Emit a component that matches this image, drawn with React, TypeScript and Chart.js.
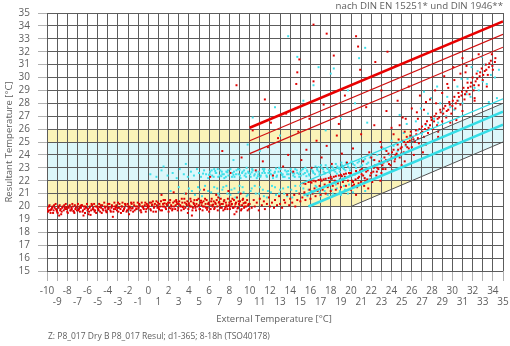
import React, { useEffect, useRef } from "react";
import { Chart, registerables } from "chart.js";

Chart.register(...registerables);

// ---- axis ranges / labels ----
const xMin = -10;
const xMax = 35;
const yMin = 15;
const yMax = 35;
const titleText = "nach DIN EN 15251* und DIN 1946**";
const xTitle = "External Temperature [°C]";
const yTitle = "Resultant Temperature [°C]";
const captionText = "Z: P8_017 Dry B P8_017 Resul; d1-365; 8-18h (TSO40178)";

// ---- background comfort zones (DIN 1946) ----
const dinCyanZone = [[-10, 22], [-10, 25], [26, 25], [35, 28], [35, 25], [26, 22]];
const dinYellowUpper = [[-10, 25], [-10, 26], [26, 26], [26, 25]];
const dinYellowLower = [[-10, 20], [20, 20], [26, 22], [-10, 22]];

// ---- limit lines (EN 15251 / DIN 1946) ----
const redTopLine = [[10, 26.1], [35, 34.35]];
const redMidLine = [[10, 25.1], [35, 33.35]];
const redLowLine = [[10, 24.1], [35, 32.35]];
const cyanTopLine = [[15, 21.75], [35, 28.35]];
const cyanMidLine = [[15.5, 20.9], [35, 27.35]];
const cyanLowLine = [[15.8, 20.0], [35, 26.35]];
const grayUpperLine = [[26, 25], [35, 28]];
const grayLowerLine = [[20, 20], [35, 25]];

// ---- red scatter (resultant temperature), flat x,y pairs ----
const redCold = [
  -10, 19.8, -9.9, 19.6, -9.8, 20.0, -9.7, 19.7, -9.5, 19.9, -9.4, 19.5, -9.3, 20.1, -9.1, 19.8, -9.0, 19.6, -8.9, 20.0,
  -8.7, 19.7, -8.6, 19.4, -8.5, 19.9, -8.3, 20.1, -8.2, 19.8, -8.0, 19.6, -7.9, 20.0, -7.7, 19.7, -7.6, 19.9, -7.5, 20.2,
  -7.3, 19.5, -7.2, 19.8, -7.0, 20.0, -6.9, 19.7, -6.8, 19.9, -6.6, 20.1, -6.5, 19.6, -6.3, 19.8, -6.2, 20.0, -6.0, 19.7,
  -5.9, 19.4, -5.8, 19.9, -5.6, 20.2, -5.5, 19.8, -5.3, 19.6, -5.2, 20.0, -5.0, 19.9, -4.9, 19.7, -4.7, 20.1, -4.6, 19.5,
  -4.5, 19.8, -4.3, 20.0, -4.2, 19.7, -4.0, 20.2, -3.9, 19.9, -3.7, 19.6, -3.6, 20.1, -3.4, 19.8, -3.3, 20.0, -3.1, 19.7,
  -3.0, 20.3, -2.9, 19.9, -2.7, 19.5, -2.6, 20.0, -2.4, 19.8, -2.3, 20.2, -2.1, 19.7, -2.0, 20.0, -1.8, 19.9, -1.7, 20.3,
  -1.5, 19.6, -1.4, 20.1, -1.2, 19.8, -1.1, 20.0, -0.9, 20.2, -0.8, 19.7, -0.6, 20.0, -0.5, 19.9, -0.3, 20.3, -0.2, 19.8,
  -8.8, 19.3, -6.4, 19.3, -3.5, 19.2, -1.9, 19.4, -5.7, 19.35,
  -9.6, 19.75, -8.1, 19.95, -7.4, 19.65, -6.7, 20.05, -5.4, 19.75, -4.8, 19.95, -4.1, 19.55, -3.2, 19.95, -2.5, 19.65,
  -1.6, 19.85, -0.7, 19.55, -0.1, 20.05,
];
const redCold2 = [
  -9.95, 19.9, -9.85, 19.7, -9.75, 20.1, -9.65, 19.5, -9.55, 19.8, -9.45, 20.0, -9.35, 19.7, -9.25, 19.9, -9.15, 20.2,
  -9.05, 19.7, -8.95, 19.5, -8.85, 19.9, -8.75, 20.1, -8.65, 19.8, -8.55, 19.6, -8.45, 20.0, -8.35, 19.7, -8.25, 19.9,
  -8.15, 20.2, -8.05, 19.8, -7.95, 19.5, -7.85, 19.9, -7.75, 20.1, -7.65, 19.7, -7.55, 19.8, -7.45, 20.0, -7.35, 19.6,
  -7.25, 20.1, -7.15, 19.9, -7.05, 19.7, -6.95, 20.2, -6.85, 19.8, -6.75, 19.6, -6.65, 19.9, -6.55, 20.1, -6.45, 19.7,
  -6.35, 20.0, -6.25, 19.5, -6.15, 19.9, -6.05, 20.2, -5.95, 19.8, -5.85, 19.6, -5.75, 20.0, -5.65, 19.7, -5.55, 20.1,
  -5.45, 19.9, -5.35, 20.2, -5.25, 19.7, -5.15, 19.5, -5.05, 20.0, -4.95, 19.8, -4.85, 20.2, -4.75, 19.6, -4.65, 19.9,
  -4.55, 20.1, -4.45, 19.7, -4.35, 20.3, -4.25, 19.9, -4.15, 19.6, -4.05, 20.0, -3.95, 19.8, -3.85, 20.2, -3.75, 19.7,
  -3.65, 19.9, -3.55, 20.0, -3.45, 19.6, -3.35, 20.3, -3.25, 19.8, -3.15, 20.1, -3.05, 19.9, -2.95, 19.6, -2.85, 20.2,
  -2.75, 19.8, -2.65, 20.0, -2.55, 20.3, -2.45, 19.7, -2.35, 19.9, -2.25, 20.1, -2.15, 19.6, -2.05, 20.2, -1.95, 19.8,
  -1.85, 20.0, -1.75, 19.7, -1.65, 20.2, -1.55, 19.9, -1.45, 20.3, -1.35, 19.7, -1.25, 20.0, -1.15, 19.8, -1.05, 20.3,
  -0.95, 19.9, -0.85, 20.1, -0.75, 19.7, -0.65, 20.3, -0.55, 20.0, -0.45, 19.8, -0.35, 20.1, -0.25, 19.6, -0.15, 20.2,
  -0.05, 19.9,
];
const redMild = [
  0.0, 20.1, 0.2, 19.8, 0.3, 20.3, 0.5, 19.6, 0.6, 20.0, 0.8, 20.4, 0.9, 19.9, 1.1, 20.2, 1.2, 19.7, 1.4, 20.0,
  1.5, 20.5, 1.7, 19.9, 1.8, 20.2, 2.0, 19.6, 2.1, 20.3, 2.3, 20.0, 2.4, 19.8, 2.6, 20.4, 2.7, 20.1, 2.9, 19.7,
  3.0, 20.2, 3.2, 20.0, 3.3, 20.6, 3.5, 19.8, 3.6, 20.3, 3.8, 20.1, 3.9, 19.5, 4.1, 20.0, 4.2, 20.4, 4.4, 19.9,
  4.5, 20.2, 4.7, 19.7, 4.8, 20.5, 5.0, 20.1, 5.1, 19.8, 5.3, 20.3, 5.4, 20.0, 5.6, 20.6, 5.7, 19.9, 5.9, 20.2,
  6.0, 19.6, 6.2, 20.4, 6.3, 20.1, 6.5, 19.8, 6.6, 20.3, 6.8, 20.0, 6.9, 20.7, 7.1, 19.9, 7.2, 20.2, 7.4, 19.7,
  7.5, 20.5, 7.7, 20.1, 7.8, 19.8, 8.0, 20.3, 8.1, 20.0, 8.3, 20.6, 8.4, 19.9, 8.6, 20.2, 8.7, 19.6, 8.9, 20.4,
  9.0, 20.1, 9.2, 19.8, 9.3, 20.5, 9.5, 20.0, 9.6, 20.3, 9.8, 19.7, 9.9, 20.2,
  0.4, 20.15, 1.0, 19.95, 1.6, 20.25, 2.2, 19.85, 2.8, 20.35, 3.4, 19.95, 4.0, 20.25, 4.6, 20.05, 5.2, 20.45, 5.8, 19.75,
  6.4, 20.15, 7.0, 20.35, 7.6, 19.95, 8.2, 20.15, 8.8, 19.85, 9.4, 20.25,
  1.3, 20.9, 3.7, 21.0, 5.5, 21.3, 6.7, 20.9, 7.9, 21.2, 9.1, 21.0, 4.3, 19.3, 8.5, 19.4, 2.5, 21.1,
];
const redMild2 = [
  0.05, 20.0, 0.15, 20.3, 0.25, 19.7, 0.35, 20.1, 0.45, 20.4, 0.55, 19.9, 0.65, 20.2, 0.75, 19.6, 0.85, 20.1, 0.95, 20.3,
  1.05, 19.8, 1.15, 20.0, 1.25, 20.4, 1.35, 19.7, 1.45, 20.2, 1.55, 20.0, 1.65, 20.5, 1.75, 19.8, 1.85, 20.1, 1.95, 20.3,
  2.05, 19.9, 2.15, 20.5, 2.25, 20.1, 2.35, 19.7, 2.45, 20.3, 2.55, 20.0, 2.65, 19.8, 2.75, 20.5, 2.85, 20.2, 2.95, 19.9,
  3.05, 20.4, 3.15, 20.1, 3.25, 19.7, 3.35, 20.3, 3.45, 20.0, 3.55, 20.6, 3.65, 19.9, 3.75, 20.2, 3.85, 20.4, 3.95, 19.8,
  4.05, 20.1, 4.15, 20.6, 4.25, 20.0, 4.35, 19.7, 4.45, 20.3, 4.55, 20.5, 4.65, 19.9, 4.75, 20.2, 4.85, 20.0, 4.95, 20.6,
  5.05, 19.8, 5.15, 20.3, 5.25, 20.1, 5.35, 19.7, 5.45, 20.4, 5.55, 20.0, 5.65, 20.2, 5.75, 20.5, 5.85, 19.9, 5.95, 20.3,
  6.05, 20.1, 6.15, 19.8, 6.25, 20.6, 6.35, 20.0, 6.45, 20.4, 6.55, 19.9, 6.65, 20.2, 6.75, 20.5, 6.85, 19.7, 6.95, 20.3,
  7.05, 20.1, 7.15, 20.6, 7.25, 19.9, 7.35, 20.2, 7.45, 20.4, 7.55, 19.8, 7.65, 20.3, 7.75, 20.0, 7.85, 20.6, 7.95, 20.1,
  8.05, 19.8, 8.15, 20.4, 8.25, 20.2, 8.35, 19.9, 8.45, 20.5, 8.55, 20.0, 8.65, 20.3, 8.75, 20.7, 8.85, 19.9, 8.95, 20.2,
  9.05, 20.4, 9.15, 19.7, 9.25, 20.1, 9.35, 20.6, 9.45, 19.9, 9.55, 20.3, 9.65, 20.0, 9.75, 20.5, 9.85, 20.1, 9.95, 19.8,
];
const redWarm = [
  10.0, 20.2, 10.2, 19.9, 10.4, 20.5, 10.5, 20.0, 10.7, 20.3, 10.9, 19.7, 11.0, 20.6, 11.2, 20.1, 11.4, 20.4, 11.5, 19.8,
  11.7, 20.2, 11.9, 20.7, 12.0, 20.0, 12.2, 20.3, 12.4, 19.9, 12.5, 20.5, 12.7, 20.1, 12.9, 20.8, 13.0, 20.2, 13.2, 19.9,
  13.4, 20.5, 13.5, 20.3, 13.7, 20.9, 13.9, 20.1, 14.0, 20.6, 14.2, 20.3, 14.4, 20.9, 14.5, 20.0, 14.7, 20.5, 14.9, 21.0,
  15.0, 20.4, 15.2, 20.7, 15.4, 21.1, 15.5, 20.5, 15.7, 20.9, 15.9, 21.3, 16.0, 20.6, 16.2, 21.0, 16.4, 21.4, 16.5, 20.8,
  16.7, 21.2, 16.9, 21.6, 17.0, 20.9, 17.2, 21.3, 17.4, 21.7, 17.5, 21.0, 17.7, 21.5, 17.9, 21.9, 18.0, 21.2, 18.2, 21.6,
  18.4, 22.0, 18.5, 21.3, 18.7, 21.8, 18.9, 22.1, 19.0, 21.5, 19.2, 21.9, 19.4, 22.3, 19.5, 21.6, 19.7, 22.0, 19.9, 22.4,
  15.3, 21.8, 15.8, 21.9, 16.3, 22.0, 16.8, 22.05, 17.3, 22.1, 17.8, 22.2, 18.3, 22.3, 18.8, 22.4, 19.3, 22.5, 19.8, 22.6,
  16.1, 21.85, 17.1, 22.0, 18.1, 22.15, 19.1, 22.35,
  15.5, 21.75, 16.0, 21.9, 16.5, 21.95, 17.0, 22.1, 17.5, 22.15, 18.0, 22.3, 18.5, 22.35, 19.0, 22.45, 19.5, 22.55,
  20.0, 22.6, 20.5, 22.75, 21.0, 22.85,
];
const redHot = [
  20.0, 21.3, 20.1, 22.0, 20.3, 21.7, 20.4, 22.5, 20.6, 21.5, 20.7, 22.2, 20.9, 22.8, 21.0, 21.9, 21.2, 22.4, 21.3, 21.6,
  21.5, 22.7, 21.6, 22.1, 21.8, 23.0, 21.9, 22.4, 22.1, 21.9, 22.2, 22.7, 22.4, 23.2, 22.5, 22.4, 22.7, 22.9, 22.8, 23.5,
  23.0, 22.6, 23.1, 23.2, 23.3, 23.8, 23.4, 22.9, 23.6, 23.5, 23.7, 24.1, 23.9, 23.2, 24.0, 23.8, 24.2, 24.4, 24.3, 23.5,
  24.5, 24.1, 24.6, 24.8, 24.8, 23.8, 24.9, 24.5, 25.1, 25.1, 25.2, 24.2, 25.4, 24.8, 25.5, 25.4, 25.7, 24.5, 25.8, 25.1,
  25.9, 25.8, 20.2, 21.9, 20.8, 22.3, 21.4, 22.0, 22.0, 22.6, 22.6, 23.0, 23.2, 23.4, 23.8, 23.6, 24.4, 24.0, 25.0, 24.6,
  25.6, 25.0, 21.1, 22.9, 22.3, 23.6, 23.5, 24.3, 24.7, 25.2, 25.3, 25.8, 20.5, 20.9, 21.7, 21.4, 22.9, 22.0, 24.1, 22.8,
  25.3, 23.5,
  26.0, 24.6, 26.1, 25.4, 26.3, 25.0, 26.4, 25.9, 26.6, 25.3, 26.7, 24.9, 26.9, 25.7, 27.0, 26.2, 27.2, 25.4, 27.3, 26.0,
  27.5, 26.6, 27.6, 25.7, 27.8, 26.3, 27.9, 26.9, 28.1, 26.0, 28.2, 26.6, 28.4, 27.2, 28.5, 26.3, 28.7, 26.9, 28.8, 27.5,
  29.0, 26.6, 29.1, 27.2, 29.3, 27.8, 29.4, 26.9, 29.6, 27.5, 29.7, 28.1, 29.9, 27.2, 30.0, 27.8, 30.2, 28.5, 30.3, 27.6,
  30.5, 28.2, 30.6, 28.8, 30.8, 27.9, 30.9, 28.6, 31.1, 29.2, 31.2, 28.3, 31.4, 28.9, 31.5, 29.6, 31.7, 28.7, 31.8, 29.3,
  32.0, 30.0, 32.1, 29.0, 32.3, 29.7, 32.4, 30.3, 32.6, 29.4, 32.7, 30.1, 32.9, 30.7, 33.0, 29.8, 33.2, 30.5, 33.3, 31.0,
  33.5, 30.2, 33.6, 30.8, 33.8, 31.3, 34.0, 30.6, 34.2, 31.2, 33.9, 31.8,
];
const redHot2 = [
  20.15, 21.6, 20.45, 22.1, 20.75, 21.8, 21.05, 22.5, 21.35, 22.2, 21.65, 22.8, 21.95, 22.1, 22.25, 23.0, 22.55, 22.7,
  22.85, 23.3, 23.15, 22.9, 23.45, 23.6, 23.75, 23.3, 24.05, 24.2, 24.35, 23.7, 24.65, 24.4, 24.95, 24.1, 25.25, 25.0,
  25.55, 24.6, 25.85, 25.5, 26.15, 25.2, 26.45, 25.6, 26.75, 26.0, 27.05, 25.8, 27.35, 26.4, 27.65, 26.1, 27.95, 26.7,
  28.25, 27.0, 28.55, 26.8, 28.85, 27.3, 29.15, 27.6, 29.45, 27.4, 29.75, 27.9, 30.05, 28.2, 30.35, 28.0, 30.65, 28.5,
  30.95, 28.9, 31.25, 28.7, 31.55, 29.2, 31.85, 29.6, 32.15, 29.4, 32.45, 29.9, 32.75, 30.4, 33.05, 30.2, 33.35, 30.6,
  33.65, 31.1, 33.95, 30.9, 34.25, 31.5,
];
const redHotSpread = [
  24.2, 25.6, 24.8, 26.3, 25.4, 26.8, 26.0, 27.6, 26.6, 26.8, 27.2, 27.5, 27.8, 28.3, 28.4, 28.0, 29.0, 28.8, 29.6, 29.2,
  30.2, 29.8, 30.8, 30.3, 31.4, 30.9, 32.0, 31.4, 32.6, 31.8, 25.0, 23.2, 26.2, 24.0, 27.4, 24.8, 28.6, 25.8, 29.8, 26.5,
  31.0, 27.4, 32.2, 28.4, 33.4, 29.3, 23.0, 24.6, 22.0, 23.8, 21.2, 23.5,
];
const redOutliers = [
  10.6, 22.8, 11.3, 23.5, 11.8, 24.6, 12.3, 22.4, 12.8, 25.3, 13.3, 23.1, 13.8, 24.0, 14.3, 22.7, 14.8, 25.8, 15.1, 23.6,
  15.6, 24.4, 16.1, 23.0, 16.6, 25.1, 17.1, 23.8, 17.6, 24.7, 18.1, 23.3, 18.6, 25.5, 19.1, 24.1, 19.6, 23.4, 12.1, 26.5,
  13.6, 27.2, 15.9, 26.8, 17.3, 27.9, 18.8, 26.4, 19.4, 28.6, 14.6, 29.5, 16.3, 29.7, 14.7, 30.4, 14.9, 31.4,
  18.3, 31.7, 20.7, 32.4, 20.5, 33.2, 17.6, 33.4, 16.3, 34.1, 8.7, 29.4, 11.5, 28.3, 10.3, 25.9, 9.2, 23.8, 8.1, 22.6,
  7.3, 24.3, 6.1, 22.3, 20.2, 24.5, 21.0, 25.6, 21.8, 24.2, 22.3, 26.3, 22.9, 25.0, 23.5, 27.4, 24.0, 26.1, 24.6, 28.2,
  25.1, 26.9, 25.7, 29.3, 21.5, 27.7, 23.0, 29.0, 20.9, 30.6, 24.4, 30.9, 23.6, 32.0, 22.4, 31.2, 26.5, 27.3, 27.4, 28.1,
  28.3, 29.0, 29.2, 30.1, 30.1, 30.8, 31.0, 31.5, 27.1, 24.2, 28.6, 25.4, 30.4, 26.7, 32.2, 28.2, 26.8, 28.6, 29.5, 29.5,
  31.3, 30.4,
];

// ---- cyan scatter (air temperature), flat x,y pairs ----
const cyanUpperBand = [
  0.2, 22.5, 0.8, 22.3, 1.3, 22.8, 1.9, 22.4, 2.4, 22.6, 2.8, 22.2, 3.1, 22.9, 3.5, 22.5, 3.9, 22.3, 4.2, 22.7,
  4.5, 22.4, 4.8, 22.9, 5.0, 22.6, 5.2, 22.3, 5.5, 22.8, 5.7, 22.5, 5.9, 22.2, 6.1, 22.7, 6.3, 22.4, 6.5, 22.9,
  6.7, 22.6, 6.9, 22.3, 7.1, 22.8, 7.3, 22.5, 7.5, 22.2, 7.7, 22.7, 7.9, 22.4, 8.1, 22.9, 8.3, 22.6, 8.5, 22.3,
  8.7, 22.8, 8.9, 22.5, 9.1, 22.2, 9.3, 22.7, 9.5, 22.4, 9.7, 23.0, 9.9, 22.6, 10.1, 22.3, 10.3, 22.8, 10.5, 22.5,
  10.7, 22.2, 10.9, 22.7, 11.1, 22.4, 11.3, 22.9, 11.5, 22.6, 11.7, 22.3, 11.9, 22.8, 12.1, 22.5, 12.3, 22.2, 12.5, 22.7,
  12.7, 22.4, 12.9, 23.0, 13.1, 22.6, 13.3, 22.3, 13.5, 22.8, 13.7, 22.5, 13.9, 22.2, 14.1, 22.7, 14.3, 22.4, 14.5, 22.9,
  14.7, 22.6, 14.9, 22.3, 15.1, 22.8, 15.3, 22.5, 15.5, 23.0, 15.7, 22.7, 15.9, 22.4, 16.1, 22.9, 16.3, 22.6, 16.5, 23.1,
  16.7, 22.8, 16.9, 22.5, 17.1, 23.0, 17.3, 22.7, 17.5, 23.2, 17.7, 22.9, 17.9, 22.6, 18.1, 23.1, 18.3, 22.8, 18.5, 23.3,
  18.7, 23.0, 18.9, 22.7, 19.1, 23.2, 19.3, 22.9, 19.5, 23.4, 19.7, 23.1, 19.9, 22.8, 20.2, 23.3, 20.5, 23.0, 20.8, 23.5,
  21.1, 23.2, 21.4, 23.7, 21.7, 23.4, 22.0, 23.9,
  5.4, 22.55, 6.0, 22.45, 6.6, 22.75, 7.2, 22.35, 7.8, 22.65, 8.4, 22.45, 9.0, 22.85, 9.6, 22.55, 10.2, 22.65, 10.8, 22.35,
  11.4, 22.75, 12.0, 22.55, 12.6, 22.95, 13.2, 22.45, 13.8, 22.75, 14.4, 22.55, 15.0, 22.65, 15.6, 22.35, 16.2, 22.75,
  16.8, 23.05, 17.4, 22.55, 18.0, 22.85, 18.6, 22.55, 19.2, 23.0,
];
const cyanUpperBand2 = [
  6.05, 22.5, 6.25, 22.8, 6.45, 22.3, 6.65, 22.6, 6.85, 22.9, 7.05, 22.4, 7.25, 22.7, 7.45, 22.5, 7.65, 22.3, 7.85, 22.8,
  8.05, 22.6, 8.25, 22.3, 8.45, 22.7, 8.65, 22.5, 8.85, 22.9, 9.05, 22.4, 9.25, 22.6, 9.45, 22.8, 9.65, 22.3, 9.85, 22.7,
  10.05, 22.5, 10.25, 22.9, 10.45, 22.4, 10.65, 22.7, 10.85, 22.5, 11.05, 22.3, 11.25, 22.6, 11.45, 22.9, 11.65, 22.4,
  11.85, 22.6, 12.05, 22.8, 12.25, 22.4, 12.45, 22.6, 12.65, 22.3, 12.85, 22.7, 13.05, 22.9, 13.25, 22.5, 13.45, 22.3,
  13.65, 22.7, 13.85, 22.5, 14.05, 22.9, 14.25, 22.6, 14.45, 22.3, 14.65, 22.8, 14.85, 22.5, 15.05, 22.4, 15.25, 22.9,
  15.45, 22.6, 15.65, 22.8, 15.85, 22.5, 16.05, 23.0, 16.25, 22.7, 16.45, 22.5, 16.65, 22.9, 16.85, 22.7, 17.05, 23.2,
  17.25, 22.9, 17.45, 22.6, 17.65, 23.0, 17.85, 22.8, 18.05, 23.3, 18.25, 23.0, 18.45, 22.7, 18.65, 23.1, 18.85, 22.9,
  19.05, 23.4, 19.25, 23.1, 19.45, 22.8, 19.65, 23.3, 19.85, 23.0, 20.05, 23.5, 20.35, 23.2, 20.65, 23.4, 20.95, 23.1,
  21.25, 23.6, 21.55, 23.3, 21.85, 23.8,
];
const cyanLowerBand = [
  2.2, 21.2, 3.0, 21.5, 3.6, 21.0, 4.0, 21.4, 4.6, 20.9, 5.1, 21.3, 5.6, 21.6, 6.2, 21.1, 6.8, 21.4, 7.0, 20.8,
  7.4, 21.5, 7.8, 21.0, 8.2, 21.3, 8.6, 20.7, 9.0, 21.6, 9.4, 21.1, 9.8, 20.9, 10.2, 21.4, 10.6, 21.0, 11.0, 21.5,
  11.4, 20.8, 11.8, 21.2, 12.2, 21.6, 12.6, 20.9, 13.0, 21.3, 13.4, 21.0, 13.8, 21.5, 14.2, 20.7, 14.6, 21.2, 15.0, 21.6,
  15.4, 20.9, 15.8, 21.3, 16.2, 21.0, 16.6, 21.5, 17.0, 20.8, 17.4, 21.2, 17.8, 21.6, 18.2, 21.0, 18.6, 21.4, 19.0, 20.9,
  19.4, 21.3, 19.8, 21.7, 20.2, 21.1, 20.6, 21.5, 21.0, 21.9, 21.4, 21.2, 21.8, 22.1,
];
const cyanLowerBand2 = [
  4.3, 21.2, 4.9, 21.5, 5.3, 20.8, 5.9, 21.2, 6.5, 21.5, 6.9, 21.0, 7.3, 21.3, 7.7, 21.6, 8.1, 20.9, 8.5, 21.4,
  8.9, 21.1, 9.3, 21.5, 9.7, 20.8, 10.1, 21.2, 10.5, 21.6, 10.9, 21.0, 11.3, 21.3, 11.7, 20.7, 12.1, 21.1, 12.5, 21.5,
  12.9, 21.0, 13.3, 21.4, 13.7, 20.8, 14.1, 21.3, 14.5, 21.6, 14.9, 21.0, 15.3, 21.4, 15.7, 20.8, 16.1, 21.2, 16.5, 21.6,
  16.9, 21.1, 17.3, 21.5, 17.7, 20.9, 18.1, 21.3, 18.5, 21.7, 18.9, 21.2, 19.3, 21.6, 19.7, 21.0,
];
const cyanHot = [
  22.2, 23.6, 22.6, 24.0, 23.0, 23.7, 23.4, 24.4, 23.8, 24.0, 24.2, 24.7, 24.6, 24.3, 25.0, 25.0, 25.4, 24.7, 25.8, 25.4,
  26.2, 25.2, 26.6, 25.9, 27.0, 25.6, 27.4, 26.3, 27.8, 26.0, 28.2, 26.8, 28.6, 26.5, 29.0, 27.3, 29.4, 27.0, 29.8, 27.7,
  30.2, 27.5, 30.6, 28.2, 31.0, 28.0, 31.4, 28.7, 31.8, 28.5, 32.2, 29.2, 32.6, 29.0, 33.0, 29.7, 33.4, 29.5, 33.8, 30.2,
  34.2, 30.0, 34.6, 30.6, 34.4, 28.4, 33.6, 28.1, 27.2, 28.9, 27.9, 28.4, 28.5, 29.3, 26.9, 27.6, 25.5, 26.4, 24.8, 27.1,
  29.5, 28.5, 30.5, 29.3, 31.5, 29.9, 32.5, 30.5, 33.2, 31.0, 32.9, 31.6, 31.9, 30.8, 30.9, 29.9, 28.8, 28.0, 27.6, 27.2,
  26.4, 26.6, 25.2, 25.7, 24.0, 25.1, 23.2, 24.5,
];
const cyanOutliers = [
  13.8, 33.2, 14.7, 31.6, 16.8, 30.8, 18.3, 30.7, 18.0, 30.3, 16.3, 29.4, 10.3, 26.9, 12.5, 27.7, 15.3, 28.2, 19.7, 29.0,
  20.4, 28.0, 21.6, 26.5, 13.0, 25.5, 11.0, 24.3, 17.5, 25.9, 19.0, 26.8, 9.8, 24.8, 8.4, 23.6, 3.7, 23.3, 1.5, 23.1,
  20.8, 31.5, 22.5, 30.2, 21.4, 32.3,
];

const toPoints = (flat: number[]) => {
  const out: { x: number; y: number }[] = [];
  for (let i = 0; i < flat.length; i += 2) out.push({ x: flat[i], y: flat[i + 1] });
  return out;
};
const toLine = (arr: number[][]) => arr.map(([x, y]) => ({ x, y }));

const FONT = "'Open Sans', 'DejaVu Sans', sans-serif";
const TEXT = "#5e5e5e";

const zonesPlugin = {
  id: "zones",
  beforeDraw(chart: any) {
    const { ctx, chartArea, scales } = chart;
    const xs = scales.x;
    const ys = scales.y;
    const poly = (pts: number[][], color: string) => {
      ctx.beginPath();
      pts.forEach(([x, y], i) => {
        const px = xs.getPixelForValue(x);
        const py = ys.getPixelForValue(y);
        if (i === 0) ctx.moveTo(px, py);
        else ctx.lineTo(px, py);
      });
      ctx.closePath();
      ctx.fillStyle = color;
      ctx.fill();
    };
    ctx.save();
    ctx.beginPath();
    ctx.rect(chartArea.left, chartArea.top, chartArea.right - chartArea.left, chartArea.bottom - chartArea.top);
    ctx.clip();
    poly(dinCyanZone, "#dcf7fa");
    poly(dinYellowUpper, "#fbf3b8");
    poly(dinYellowLower, "#fbf3b8");
    ctx.restore();
  },
};

const textPlugin = {
  id: "texts",
  afterDraw(chart: any) {
    const { ctx } = chart;
    ctx.save();
    ctx.fillStyle = TEXT;
    ctx.font = `9.7px ${FONT}`;
    ctx.textBaseline = "middle";
    ctx.textAlign = "right";
    ctx.fillText(titleText, 503, 6);
    ctx.textAlign = "center";
    ctx.font = `9.5px ${FONT}`;
    ctx.fillText(xTitle, 274, 319);
    ctx.font = `8.5px ${FONT}`;
    ctx.textAlign = "left";
    ctx.fillText(captionText, 48, 337);
    ctx.font = `9.5px ${FONT}`;
    ctx.translate(9, 142);
    ctx.rotate(-Math.PI / 2);
    ctx.textAlign = "center";
    ctx.fillText(yTitle, 0, 0);
    ctx.restore();
  },
};

export default function App() {
  const ref = useRef<HTMLCanvasElement>(null);
  useEffect(() => {
    if (!ref.current) return;
    const lineDs = (data: number[][], color: string, width: number, order: number) => ({
      type: "line" as const,
      data: toLine(data),
      borderColor: color,
      borderWidth: width,
      pointRadius: 0,
      fill: false,
      order,
    });
    const pointDs = (data: number[], color: string, order: number) => ({
      type: "scatter" as const,
      data: toPoints(data),
      backgroundColor: color,
      borderWidth: 0,
      pointStyle: "rect",
      pointRadius: 1.4,
      order,
    });
    const RED = "#e00000";
    const CYAN = "#3ee0ea";
    const chart = new Chart(ref.current, {
      type: "scatter",
      data: {
        datasets: [
          lineDs(redTopLine, "#e80000", 2.6, 1),
          lineDs(redMidLine, "#d01010", 1.2, 1),
          lineDs(redLowLine, "#d01010", 1.2, 1),
          lineDs(grayUpperLine, "#555555", 1, 2),
          lineDs(grayLowerLine, "#555555", 1, 2),
          lineDs(cyanTopLine, "#35dde6", 1.2, 2),
          lineDs(cyanMidLine, "#35dde6", 2.6, 2),
          lineDs(cyanLowLine, "#35dde6", 2.6, 2),
          pointDs(redCold, RED, 3),
          pointDs(redCold2, RED, 3),
          pointDs(redMild, RED, 3),
          pointDs(redMild2, RED, 3),
          pointDs(redWarm, RED, 3),
          pointDs(redHot, RED, 3),
          pointDs(redHot2, RED, 3),
          pointDs(redHotSpread, RED, 3),
          pointDs(redOutliers, RED, 3),
          pointDs(cyanUpperBand, CYAN, 4),
          pointDs(cyanUpperBand2, CYAN, 4),
          pointDs(cyanLowerBand, CYAN, 4),
          pointDs(cyanLowerBand2, CYAN, 4),
          pointDs(cyanHot, CYAN, 4),
          pointDs(cyanOutliers, CYAN, 4),
        ] as any,
      },
      options: {
        animation: false,
        responsive: false,
        events: [],
        layout: { padding: { left: 0, right: 7, top: 13, bottom: 0 } },
        plugins: { legend: { display: false }, tooltip: { enabled: false }, title: { display: false } },
        scales: {
          x: {
            type: "linear",
            min: xMin,
            max: xMax,
            border: { display: false },
            grid: { color: "#5c5c5c", lineWidth: 1, tickLength: 10, tickColor: "#b0b0b0" },
            ticks: {
              stepSize: 1,
              autoSkip: false,
              maxRotation: 0,
              padding: 5,
              color: TEXT,
              font: { family: FONT, size: 10, lineHeight: 1.1 },
              callback: (v: any) => {
                const n = Math.round(Number(v));
                return n % 2 === 0 ? [String(n)] : ["", String(n)];
              },
            },
            afterFit: (s: any) => {
              s.height = 75;
              s.paddingLeft = 0;
              s.paddingRight = 0;
            },
          },
          y: {
            type: "linear",
            min: yMin,
            max: yMax,
            border: { display: false },
            grid: { color: "#5c5c5c", lineWidth: 1, tickLength: 9, tickColor: "#b0b0b0" },
            ticks: {
              stepSize: 1,
              autoSkip: false,
              padding: 8,
              color: TEXT,
              font: { family: FONT, size: 10 },
            },
            afterFit: (s: any) => {
              s.width = 47;
              s.paddingTop = 0;
              s.paddingBottom = 0;
            },
          },
        },
      } as any,
      plugins: [zonesPlugin, textPlugin],
    });
    return () => chart.destroy();
  }, []);
  return (
    <div style={{ position: "fixed", left: 0, top: 0, width: 510, height: 346, background: "#fff" }}>
      <canvas ref={ref} width={510} height={346} style={{ width: 510, height: 346 }} />
    </div>
  );
}
